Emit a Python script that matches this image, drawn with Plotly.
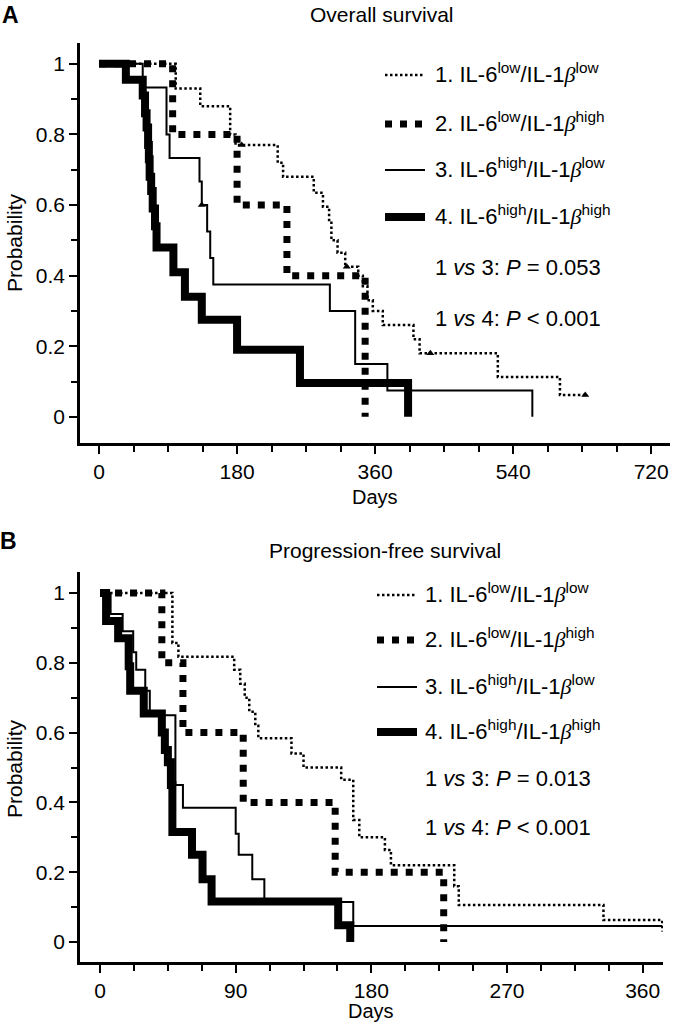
import plotly.graph_objects as go

# ---------------- data ----------------
# Panel A: overall survival (days, probability)
os_days_1 = [0, 100, 132, 171, 178, 233, 240, 280, 292, 300, 303, 311, 321, 338, 344, 350, 357, 370, 410, 418, 520, 601, 634]
os_surv_1 = [1.0, 0.93, 0.88, 0.80, 0.77, 0.72, 0.68, 0.635, 0.595, 0.55, 0.50, 0.465, 0.425, 0.40, 0.37, 0.33, 0.30, 0.26, 0.22, 0.18, 0.113, 0.062, 0.062]
os_days_2 = [0, 96, 180, 245, 347]
os_surv_2 = [1.0, 0.8, 0.6, 0.4, 0.0]
os_days_3 = [0, 57, 88, 92, 131, 134, 141, 145, 149, 301, 334, 376, 565]
os_surv_3 = [1.0, 0.933, 0.8, 0.733, 0.667, 0.6, 0.525, 0.45, 0.375, 0.3, 0.15, 0.075, 0.0]
os_days_4 = [0, 35, 57, 60, 62, 64, 65, 66, 68, 70, 73, 75, 97, 112, 134, 180, 262, 403]
os_surv_4 = [1.0, 0.955, 0.91, 0.86, 0.82, 0.77, 0.73, 0.68, 0.64, 0.59, 0.54, 0.48, 0.41, 0.34, 0.275, 0.19, 0.096, 0.0]
os_cens_days_1 = [186, 323, 432, 634]
os_cens_surv_1 = [0.77, 0.425, 0.18, 0.062]
os_cens_days_3 = [134]
os_cens_surv_3 = [0.6]

# Panel B: progression-free survival
pfs_days_1 = [0, 48, 52, 89, 93, 96, 99, 103, 105, 127, 135, 160, 168, 172, 189, 193, 235, 238, 334, 373]
pfs_surv_1 = [1.0, 0.857, 0.817, 0.78, 0.74, 0.70, 0.66, 0.62, 0.584, 0.54, 0.50, 0.465, 0.35, 0.30, 0.264, 0.22, 0.16, 0.106, 0.063, 0.03]
pfs_days_2 = [0, 41, 55, 95, 156, 228]
pfs_surv_2 = [1.0, 0.8, 0.6, 0.4, 0.2, 0.0]
pfs_days_3 = [0, 7, 15, 22, 24, 30, 33, 50, 55, 90, 92, 101, 109, 168, 373]
pfs_surv_3 = [1.0, 0.94, 0.89, 0.83, 0.78, 0.72, 0.65, 0.45, 0.385, 0.31, 0.25, 0.18, 0.115, 0.046, 0.046]
pfs_days_4 = [0, 4, 12, 19, 20, 29, 41, 43, 45, 47, 48, 61, 68, 74, 158, 166]
pfs_surv_4 = [1.0, 0.92, 0.87, 0.79, 0.72, 0.655, 0.60, 0.55, 0.515, 0.45, 0.315, 0.25, 0.18, 0.116, 0.048, 0.0]

group_labels = [
    "1. IL-6<sup>low</sup>/IL-1{b}<sup>low</sup>",
    "2. IL-6<sup>low</sup>/IL-1{b}<sup>high</sup>",
    "3. IL-6<sup>high</sup>/IL-1{b}<sup>low</sup>",
    "4. IL-6<sup>high</sup>/IL-1{b}<sup>high</sup>",
]
os_pvals = ["1 <i>vs</i> 3: <i>P</i> = 0.053", "1 <i>vs</i> 4: <i>P</i> &lt; 0.001"]
pfs_pvals = ["1 <i>vs</i> 3: <i>P</i> = 0.013", "1 <i>vs</i> 4: <i>P</i> &lt; 0.001"]
os_xticks = [0, 180, 360, 540, 720]
pfs_xticks = [0, 90, 180, 270, 360]
y_ticks = [0, 0.2, 0.4, 0.6, 0.8, 1]
y_ticktext = ["0", "0.2", "0.4", "0.6", "0.8", "1"]

# ---------------- styling ----------------
W, H = 673, 1028
FONT = "Liberation Sans, Arial, Helvetica, sans-serif"
BETA = "<span style='font-family:Liberation Serif, DejaVu Serif, serif'><i>β</i></span>"
styles = [
    dict(color="black", width=2.5, dash="2.5px,2.5px"),
    dict(color="black", width=7, dash="7px,8px"),
    dict(color="black", width=2, dash="solid"),
    dict(color="black", width=8, dash="solid"),
]


def px(x):
    return x / W


def py(y):
    return 1 - y / H


fig = go.Figure()

os_series = [(os_days_1, os_surv_1), (os_days_2, os_surv_2), (os_days_3, os_surv_3), (os_days_4, os_surv_4)]
pfs_series = [(pfs_days_1, pfs_surv_1), (pfs_days_2, pfs_surv_2), (pfs_days_3, pfs_surv_3), (pfs_days_4, pfs_surv_4)]

for i in [3, 2, 1, 0]:
    d, s = os_series[i]
    fig.add_trace(go.Scatter(x=d, y=s, mode="lines", line=styles[i], line_shape="hv",
                             xaxis="x", yaxis="y", hoverinfo="skip"))
    d, s = pfs_series[i]
    fig.add_trace(go.Scatter(x=d, y=s, mode="lines", line=styles[i], line_shape="hv",
                             xaxis="x2", yaxis="y2", hoverinfo="skip"))

fig.add_trace(go.Scatter(x=os_cens_days_1, y=os_cens_surv_1, mode="markers",
                         marker=dict(symbol="triangle-up", size=7, color="black"),
                         xaxis="x", yaxis="y", hoverinfo="skip"))
fig.add_trace(go.Scatter(x=os_cens_days_3, y=os_cens_surv_3, mode="markers",
                         marker=dict(symbol="triangle-up", size=7, color="black"),
                         xaxis="x", yaxis="y", hoverinfo="skip"))

axis_common = dict(
    showline=True, linecolor="black", linewidth=2.5, mirror=False,
    ticks="outside", ticklen=8, tickwidth=2, tickcolor="black",
    showgrid=False, zeroline=False,
    tickfont=dict(size=21, color="black", family=FONT),
)

fig.update_layout(
    width=W, height=H,
    margin=dict(l=0, r=0, t=0, b=0),
    paper_bgcolor="white", plot_bgcolor="white",
    showlegend=False,
    xaxis=dict(domain=[px(80), px(670)], range=[-24.8, 744.5], tickvals=os_xticks,
               minor=dict(ticks="outside", dtick=45, tick0=0, ticklen=6, tickwidth=2, tickcolor="black"),
               anchor="y", **axis_common),
    yaxis=dict(domain=[py(443), py(43)], range=[-0.074, 1.059], tickvals=y_ticks, ticktext=y_ticktext,
               minor=dict(ticks="outside", dtick=0.1, tick0=0, ticklen=6, tickwidth=2, tickcolor="black"),
               anchor="x", **axis_common),
    xaxis2=dict(domain=[px(80), px(663)], range=[-13.3, 373.5], tickvals=pfs_xticks,
                minor=dict(ticks="outside", dtick=22.5, tick0=0, ticklen=6, tickwidth=2, tickcolor="black"),
                anchor="y2", **axis_common),
    yaxis2=dict(domain=[py(962), py(572)], range=[-0.057, 1.06], tickvals=y_ticks, ticktext=y_ticktext,
                minor=dict(ticks="outside", dtick=0.1, tick0=0, ticklen=6, tickwidth=2, tickcolor="black"),
                anchor="x2", **axis_common),
)

ann = []
shapes = []


def text(x, y, t, size=21, xanchor="center", angle=0, bold=False):
    ann.append(dict(x=px(x), y=py(y), xref="paper", yref="paper", text=("<b>%s</b>" % t) if bold else t,
                    showarrow=False, xanchor=xanchor, yanchor="middle", textangle=angle,
                    font=dict(size=size, color="black", family=FONT)))


# panel letters and titles
text(10, 15, "A", size=23, bold=True)
text(8, 541, "B", size=23, bold=True)
text(382, 15, "Overall survival", size=21)
text(385, 550, "Progression-free survival", size=21)
# axis titles
text(375, 497, "Days", size=20)
text(371, 1011, "Days", size=20)
text(14, 243, "Probability", size=21, angle=-90)
text(14, 769, "Probability", size=21, angle=-90)

# legends
for panel, (lx0, lx1, tx, rows, prow, pv) in enumerate([
        (385, 425, 433, [73, 122, 168, 215], [268, 318], os_pvals),
        (377, 417, 423, [593, 638, 685, 730], [778, 827], pfs_pvals)]):
    for i in range(4):
        st = styles[i]
        shapes.append(dict(type="line", xref="paper", yref="paper",
                           x0=px(lx0), x1=px(lx1), y0=py(rows[i] + 2), y1=py(rows[i] + 2),
                           line=dict(color="black", width=st["width"], dash=st["dash"])))
        text(tx, rows[i], group_labels[i].replace("{b}", BETA), size=22, xanchor="left")
    for j in range(2):
        text(tx, prow[j], pv[j], size=22, xanchor="left")

fig.update_layout(annotations=ann, shapes=shapes)
fig.write_html(
    "out.html",
    config={"displayModeBar": False},
    post_script="document.body.style.margin='0px';document.body.style.padding='0px';"
                "document.body.style.overflow='hidden';",
)
